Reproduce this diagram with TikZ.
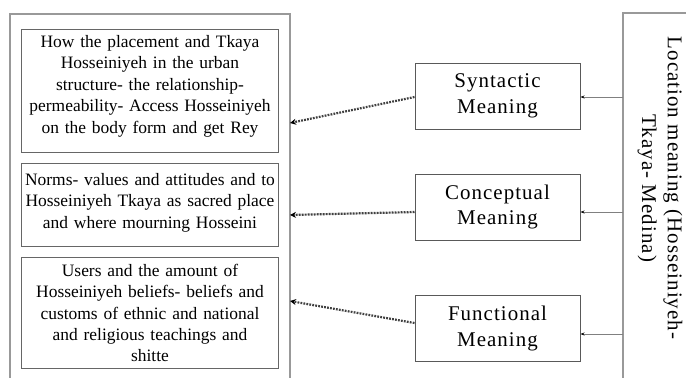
\documentclass[tikz,border=0pt]{standalone}
\usepackage{fontspec}
\setmainfont{Liberation Serif}
\newfontfamily\spacedfont[LetterSpace=5]{Liberation Serif}
\usetikzlibrary{arrows.meta}
\begin{document}
\begin{tikzpicture}[x=1bp,y=-1bp,
  frame/.style={draw=black!40, line width=1.1bp},
  textbox/.style={draw=black!60, line width=1bp, rectangle, inner sep=0pt,
    minimum width=256bp},
  boxtext/.style={inner sep=0pt, align=center, text width=256bp,
    font=\fontsize{17.5}{21.5}\selectfont},
  meanbox/.style={draw=black!65, line width=1bp, rectangle, inner sep=0pt, align=center,
    minimum width=165bp, minimum height=66bp, font=\spacedfont\fontsize{21}{26}\selectfont},
  solidarrow/.style={draw=black!50, line width=0.8bp, -{Stealth[length=4bp,width=3bp,black]}},
  dotarrow/.style={draw=black!75, line width=2.2bp, dash pattern=on 1.8bp off 1.2bp,
    -{Stealth[length=6bp,width=6bp,black]}}]
\useasboundingbox[fill=white] (0,0) rectangle (686,377);
% outer left frame (open at bottom)
\draw[frame] (10,380) -- (10,14) -- (290,14) -- (290,380);
% right frame (open at bottom and right)
\draw[frame] (690,13) -- (623,13) -- (623,380);
% left text boxes
\node[textbox, minimum height=123bp] (b1) at (150,90.5) {};
\node[boxtext] (t1) at (150,86) {How the placement and Tkaya\\Hosseiniyeh in the urban\\structure- the relationship-\\permeability- Access Hosseiniyeh\\on the body form and get Rey};
\node[textbox, minimum height=83bp] (b2) at (150,204.5) {};
\node[boxtext] (t2) at (150,202.5) {Norms- values and attitudes and to\\Hosseiniyeh Tkaya as sacred place\\and where mourning Hosseini};
\node[textbox, minimum height=111bp] (b3) at (150,312.5) {};
\node[boxtext] (t3) at (150,313) {Users and the amount of\\Hosseiniyeh beliefs- beliefs and\\customs of ethnic and national\\and religious teachings and\\shitte};
% meaning boxes
\node[meanbox] (syn) at (497.5,96) {Syntactic\\Meaning};
\node[meanbox] (con) at (497.5,207) {Conceptual\\Meaning};
\node[meanbox] (fun) at (497.5,328.5) {Functional\\Meaning};
% rotated location text
\node[rotate=-90, align=center, font=\spacedfont\fontsize{21}{26}\selectfont, inner sep=0pt] (loc) at (660,188) {Location meaning (Hosseiniyeh-\\Tkaya- Medina)};
% solid arrows from right frame
\coordinate (r1) at (623,97);
\coordinate (r2) at (623,212);
\coordinate (r3) at (623,334);
\draw[solidarrow] (r1) -- (syn.east |- r1);
\draw[solidarrow] (r2) -- (con.east |- r2);
\draw[solidarrow] (r3) -- (fun.east |- r3);
% dotted arrows to left frame
\coordinate (l1) at (290,123);
\coordinate (l2) at (290,215);
\coordinate (l3) at (290,301);
\draw[dotarrow] (syn.west |- 0,97) -- (l1);
\draw[dotarrow] (con.west |- 0,212) -- (l2);
\draw[dotarrow] (fun.west |- 0,323) -- (l3);
\end{tikzpicture}
\end{document}
